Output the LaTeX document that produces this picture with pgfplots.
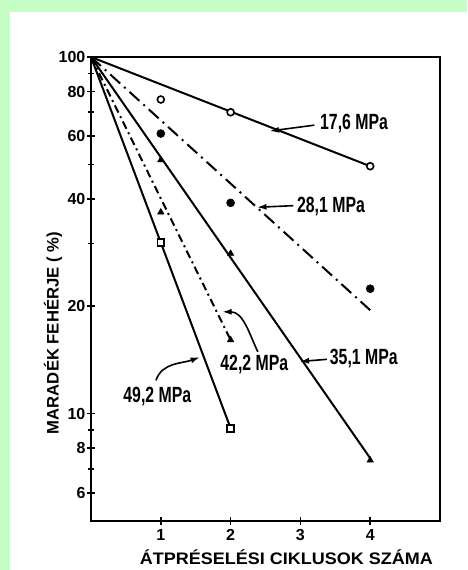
\documentclass[border=0pt]{standalone}
\usepackage{pgfplots}
\pgfplotsset{compat=1.18}
\usetikzlibrary{arrows.meta}
\usepackage{fontspec}
\setmainfont{Liberation Sans}
\newfontfamily\annfont[FakeStretch=0.72]{Liberation Sans}
\definecolor{bggreen}{RGB}{198,255,198}
\begin{document}
\begin{tikzpicture}
\useasboundingbox (0,0) rectangle (350.25pt,427.5pt);
\fill[bggreen] (0,0) rectangle (350.25pt,427.5pt);
\fill[white] (7.5pt,0) rectangle (350.25pt,418.5pt);
\begin{axis}[
  at={(68.25pt,36.75pt)}, anchor=south west,
  scale only axis, width=261.75pt, height=348pt,
  xmin=0, xmax=5, ymode=log, ymin=5, ymax=100,
  xtick={1,2,3,4},
  ytick={6,8,10,20,40,60,80,100},
  yticklabels={6,8,10,20,40,60,80,100},
  minor ytick={7,9,30,50,70,90},
  tick pos=left, tick align=center,
  major tick length=6pt, minor tick length=4pt,
  every tick/.style={black, line width=1.2pt},
  axis line style={line width=1.8pt},
  /pgf/number format/assume math mode=true,
  xticklabel style={font=\bfseries\fontsize{12}{13}\selectfont},
  yticklabel style={inner sep=1pt, font=\bfseries\fontsize{12}{13}\selectfont},
  xlabel={\scalebox{1.08}[1]{\fontsize{12.5}{13}\selectfont\bfseries ÁTPRÉSELÉSI CIKLUSOK SZÁMA}},
  ylabel={\fontsize{12.5}{13}\selectfont\bfseries MARADÉK FEHÉRJE ( \%)},
  every axis x label/.style={at={(rel axis cs:0.56,0)}, yshift=-27pt, anchor=center},
  every axis y label/.style={at={(rel axis cs:0,0.405)}, xshift=-28.5pt, rotate=90, anchor=center},
  clip=false,
]
\addplot[line width=1.5pt] coordinates {(0,100) (4,49.4)};
\addplot[only marks, mark=*, mark size=2.6pt, mark options={fill=white, line width=1.2pt}] coordinates {(1,76) (2,70) (4,49.4)};
\addplot[line width=1.5pt, dash pattern=on 10pt off 4pt on 1.5pt off 4pt] coordinates {(0,100) (4,19.5)};
\addplot[only marks, mark=*, mark size=3pt] coordinates {(1,61) (2,39) (4,22.4)};
\addplot[line width=1.5pt] coordinates {(0,100) (4,7.5)};
\addplot[only marks, mark=triangle*, mark size=2.8pt] coordinates {(1,51.4) (2,28.1) (4,7.4)};
\addplot[line width=1.5pt, dash pattern=on 6pt off 3pt on 1.5pt off 3pt] coordinates {(0,100) (2,16.1)};
\addplot[only marks, mark=triangle*, mark size=2.8pt] coordinates {(1,36.7) (2,16.1)};
\addplot[line width=1.5pt] coordinates {(0,100) (2,9.1)};
\addplot[only marks, mark=square*, mark size=2.6pt, mark options={fill=white, line width=1.2pt}] coordinates {(1,30.2) (2,9.1)};
% annotations
\tikzset{ann/.style={font=\annfont\bfseries\fontsize{16.5}{17}\selectfont, inner sep=1pt},
         arr/.style={-{Latex[length=7pt,width=4.5pt]}, line width=1.2pt}}
\node[ann, anchor=west] at (axis cs:3.26,65.2) {17,6 MPa};
\draw[arr] (axis cs:3.2,64.4) -- (axis cs:2.56,62);
\node[ann, anchor=west] at (axis cs:2.93,38.1) {28,1 MPa};
\draw[arr] (axis cs:2.9,38.3) -- (axis cs:2.38,37.9);
\node[ann, anchor=west] at (axis cs:3.40,14.3) {35,1 MPa};
\draw[arr] (axis cs:3.38,14.2) -- (axis cs:2.99,14.0);
\node[ann, anchor=center] at (axis cs:2.34,13.7) {42,2 MPa};
\draw[arr] (axis cs:2.39,14.9) to[out=115,in=0] (axis cs:1.88,19.3);
\node[ann, anchor=center] at (axis cs:0.95,11.2) {49,2 MPa};
\draw[arr] (axis cs:0.93,12.4) to[out=70,in=200] (axis cs:1.56,14.4);
\end{axis}
\end{tikzpicture}
\end{document}
